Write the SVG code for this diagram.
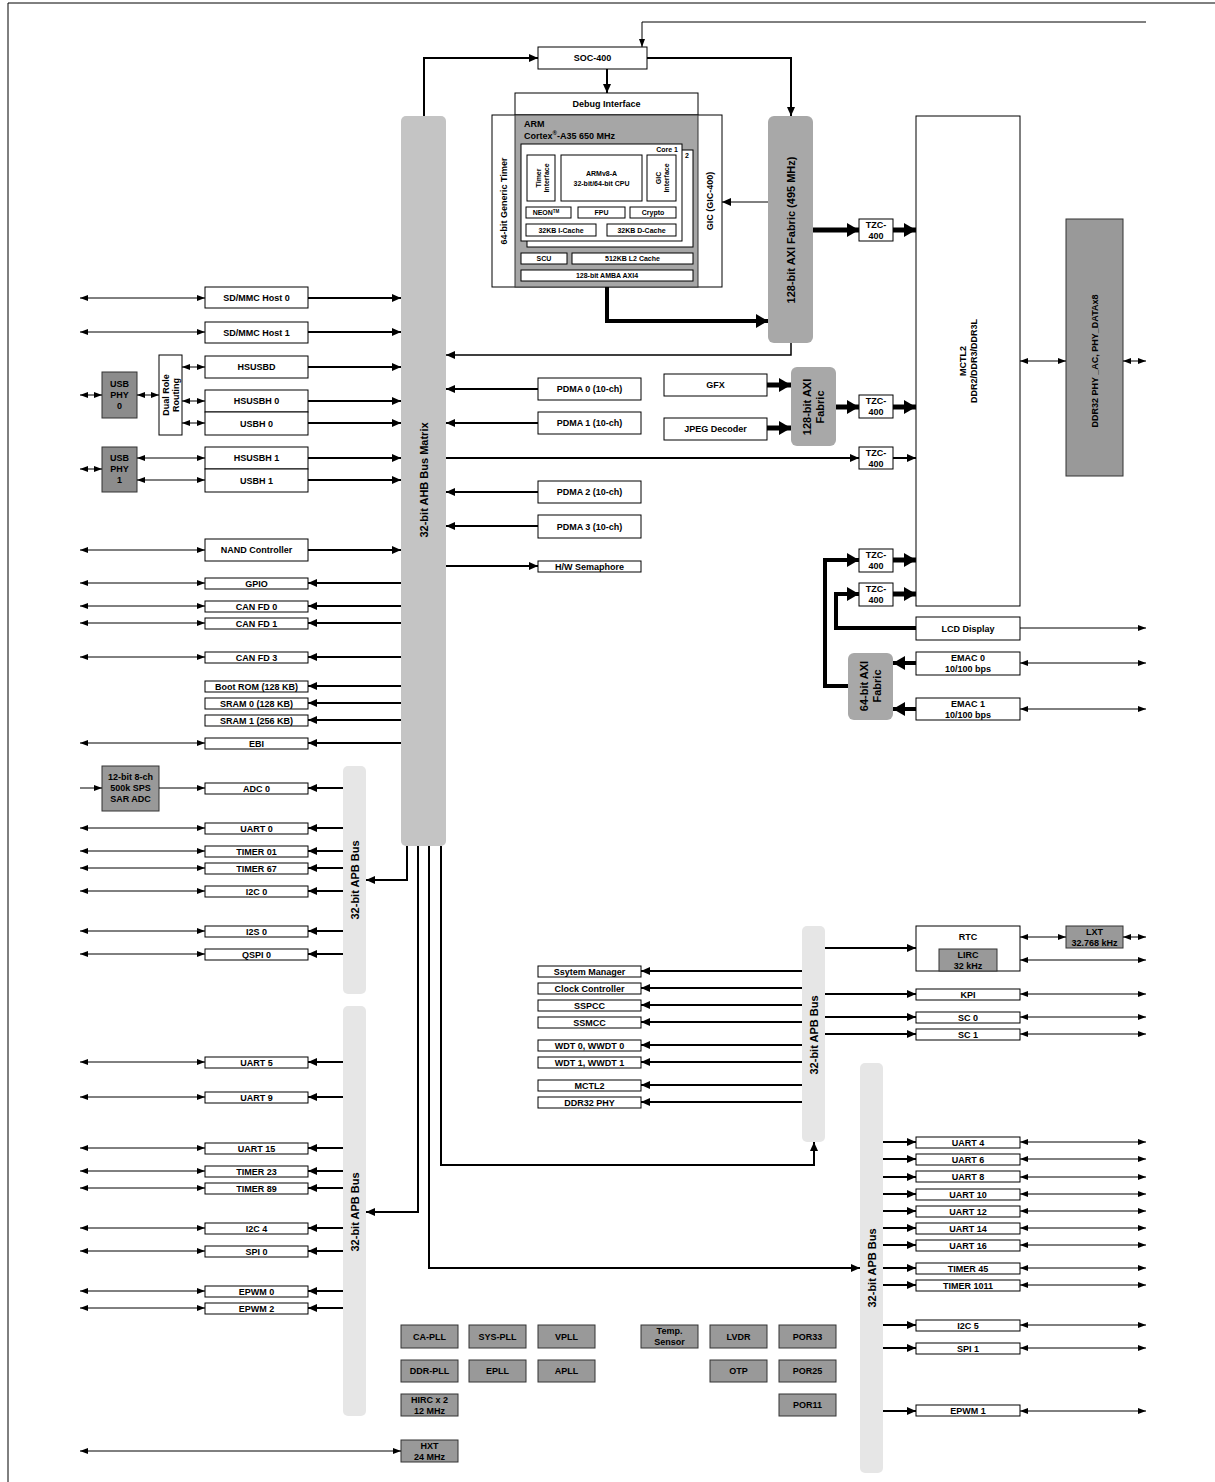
<svg xmlns="http://www.w3.org/2000/svg" width="1215" height="1482" viewBox="0 0 1215 1482">
<defs>
<style>
.w{fill:#fff;stroke:#000;stroke-width:1}
.dk{fill:#999;stroke:#333;stroke-width:1}
.phy{fill:#8c8c8c;stroke:#333;stroke-width:1}
.cpu{fill:#a6a6a6;stroke:#333;stroke-width:1}
.axi{fill:#a8a8a8;stroke:none}
.ahb{fill:#c4c4c4;stroke:none}
.apb{fill:#e6e6e6;stroke:none}
text{font-family:"Liberation Sans",Arial,sans-serif;font-weight:bold;font-size:9px;text-anchor:middle;dominant-baseline:central;fill:#000}
.s7{font-size:7px}
.s8{font-size:8px}
.s11{font-size:11px}
.l{text-anchor:start}
.r{text-anchor:end}
.c1{fill:none;stroke:#000;stroke-width:1}
.c2{fill:none;stroke:#000;stroke-width:2}
.c5{fill:none;stroke:#000;stroke-width:5}
</style>
<marker id="a" markerUnits="userSpaceOnUse" viewBox="0 0 8 6" refX="8" refY="3" markerWidth="8" markerHeight="6" orient="auto-start-reverse"><path d="M0,0 L8,3 L0,6 z" fill="#000"/></marker>
<marker id="b" markerUnits="userSpaceOnUse" viewBox="0 0 9 8" refX="9" refY="4" markerWidth="9" markerHeight="8" orient="auto-start-reverse"><path d="M0,0 L9,4 L0,8 z" fill="#000"/></marker>
<marker id="c" markerUnits="userSpaceOnUse" viewBox="0 0 12 14" refX="12" refY="7" markerWidth="12" markerHeight="14" orient="auto-start-reverse"><path d="M0,0 L12,7 L0,14 z" fill="#000"/></marker>
</defs>
<rect x="0" y="0" width="1215" height="1482" fill="#fff"/>
<path d="M8,1482 V3 H1215" fill="none" stroke="#000" stroke-width="1"/>

<!-- buses -->
<g id="ahb"><rect class="ahb" x="401" y="116" width="45" height="730" rx="5"/><text class="s11" transform="translate(424,480) rotate(-90)">32-bit AHB Bus Matrix</text></g>
<g id="axi128"><rect class="axi" x="768" y="116" width="45" height="227" rx="6"/><text class="s11" transform="translate(791,230) rotate(-90)">128-bit AXI Fabric (495 MHz)</text></g>
<g id="axi128b"><rect class="axi" x="791" y="367" width="45" height="79" rx="6"/><text class="s11" transform="translate(807,407) rotate(-90)">128-bit AXI</text><text class="s11" transform="translate(820,407) rotate(-90)">Fabric</text></g>
<g id="axi64"><rect class="axi" x="848" y="653" width="45" height="67" rx="6"/><text class="s11" transform="translate(864,686) rotate(-90)">64-bit AXI</text><text class="s11" transform="translate(877,686) rotate(-90)">Fabric</text></g>
<g id="apb1"><rect class="apb" x="343" y="766" width="23" height="228" rx="5"/><text class="s11" transform="translate(354.5,880) rotate(-90)">32-bit APB Bus</text></g>
<g id="apb2"><rect class="apb" x="343" y="1006" width="23" height="410" rx="5"/><text class="s11" transform="translate(354.5,1212) rotate(-90)">32-bit APB Bus</text></g>
<g id="apb3"><rect class="apb" x="802" y="926" width="23" height="216" rx="5"/><text class="s11" transform="translate(813.5,1035) rotate(-90)">32-bit APB Bus</text></g>
<g id="apb4"><rect class="apb" x="860" y="1063" width="23" height="410" rx="5"/><text class="s11" transform="translate(871.5,1268) rotate(-90)">32-bit APB Bus</text></g>

<!-- top / CPU -->
<g id="soc400"><rect class="w" x="538" y="47" width="109" height="22"/><text x="592.5" y="58">SOC-400</text></g>
<g id="debug"><rect class="w" x="515" y="93" width="183" height="22"/><text x="606.5" y="104">Debug Interface</text></g>
<g id="gic"><rect class="w" x="492" y="115" width="230" height="172"/><text transform="translate(504,201) rotate(-90)">64-bit Generic Timer</text><text transform="translate(710,201) rotate(-90)">GIC (GIC-400)</text></g>
<g id="cpu">
<rect class="cpu" x="515" y="115" width="183" height="172"/>
<text class="l" x="524" y="124">ARM</text>
<text class="l" x="524" y="136">Cortex<tspan font-size="6px" dy="-3">®</tspan><tspan dy="3">-A35 650 MHz</tspan></text>
<rect class="w" x="527" y="150" width="166" height="97"/><text class="s7" x="687" y="155">2</text>
<rect class="w" x="521" y="144" width="161" height="97"/><text class="s7 r" x="678" y="149">Core 1</text>
<rect class="w" x="527" y="155" width="28" height="46"/><text class="s7" transform="translate(538,178) rotate(-90)">Timer</text><text class="s7" transform="translate(546,178) rotate(-90)">Interface</text>
<rect class="w" x="561" y="155" width="81" height="46"/><text class="s7" x="601.5" y="173">ARMv8-A</text><text class="s7" x="601.5" y="183">32-bit/64-bit CPU</text>
<rect class="w" x="647" y="155" width="29" height="46"/><text class="s7" transform="translate(658,178) rotate(-90)">GIC</text><text class="s7" transform="translate(666,178) rotate(-90)">Interface</text>
<rect class="w" x="526" y="207" width="45" height="11"/><text class="s7" x="546" y="212.5">NEON<tspan font-size="4.5px" dy="-2">TM</tspan></text>
<rect class="w" x="578" y="207" width="47" height="11"/><text class="s7" x="601.5" y="212.5">FPU</text>
<rect class="w" x="630" y="207" width="46" height="11"/><text class="s7" x="653" y="212.5">Crypto</text>
<rect class="w" x="526" y="224" width="70" height="12"/><text class="s7" x="561" y="230">32KB I-Cache</text>
<rect class="w" x="607" y="224" width="69" height="12"/><text class="s7" x="641.5" y="230">32KB D-Cache</text>
<rect class="w" x="521" y="253" width="46" height="11"/><text class="s7" x="544" y="258.5">SCU</text>
<rect class="w" x="572" y="253" width="121" height="11"/><text class="s7" x="632.5" y="258.5">512KB L2 Cache</text>
<rect class="w" x="521" y="270" width="172" height="11"/><text class="s7" x="607" y="275.5">128-bit AMBA AXI4</text>
</g>

<!-- memory side -->
<g id="mctl2"><rect class="w" x="916" y="116" width="104" height="490"/><text transform="translate(963,361) rotate(-90)">MCTL2</text><text transform="translate(974,361) rotate(-90)">DDR2/DDR3/DDR3L</text></g>
<g id="ddrphy"><rect class="dk" x="1066" y="219" width="57" height="257"/><text transform="translate(1094.5,361) rotate(-90)">DDR32 PHY _AC, PHY_DATAx8</text></g>
<g id="tzc1"><rect class="w" x="859" y="219" width="34" height="22"/><text x="876" y="225">TZC-</text><text x="876" y="236">400</text></g>
<g id="tzc2"><rect class="w" x="859" y="395" width="34" height="23"/><text x="876" y="401">TZC-</text><text x="876" y="412">400</text></g>
<g id="tzc3"><rect class="w" x="859" y="447" width="34" height="22"/><text x="876" y="453">TZC-</text><text x="876" y="464">400</text></g>
<g id="tzc4"><rect class="w" x="859" y="549" width="34" height="23"/><text x="876" y="555">TZC-</text><text x="876" y="566">400</text></g>
<g id="tzc5"><rect class="w" x="859" y="583" width="34" height="23"/><text x="876" y="589">TZC-</text><text x="876" y="600">400</text></g>
<g id="gfx"><rect class="w" x="664" y="374" width="103" height="22"/><text x="715.5" y="385">GFX</text></g>
<g id="jpeg"><rect class="w" x="664" y="418" width="103" height="22"/><text x="715.5" y="429">JPEG Decoder</text></g>
<g id="lcd"><rect class="w" x="916" y="617" width="104" height="23"/><text x="968" y="628.5">LCD Display</text></g>
<g id="emac0"><rect class="w" x="916" y="652" width="104" height="23"/><text x="968" y="658">EMAC 0</text><text x="968" y="669">10/100 bps</text></g>
<g id="emac1"><rect class="w" x="916" y="698" width="104" height="22"/><text x="968" y="704">EMAC 1</text><text x="968" y="715">10/100 bps</text></g>

<!-- PDMA -->
<g id="pdma0"><rect class="w" x="538" y="378" width="103" height="22"/><text x="589.5" y="389">PDMA 0 (10-ch)</text></g>
<g id="pdma1"><rect class="w" x="538" y="412" width="103" height="22"/><text x="589.5" y="423">PDMA 1 (10-ch)</text></g>
<g id="pdma2"><rect class="w" x="538" y="481" width="103" height="22"/><text x="589.5" y="492">PDMA 2 (10-ch)</text></g>
<g id="pdma3"><rect class="w" x="538" y="515" width="103" height="23"/><text x="589.5" y="526.5">PDMA 3 (10-ch)</text></g>
<g id="hwsem"><rect class="w" x="538" y="561" width="103" height="11"/><text x="589.5" y="566.5">H/W Semaphore</text></g>

<!-- left AHB peripherals -->
<g id="sdmmc0"><rect class="w" x="205" y="287" width="103" height="21"/><text x="256.5" y="297.5">SD/MMC Host 0</text></g>
<g id="sdmmc1"><rect class="w" x="205" y="322" width="103" height="21"/><text x="256.5" y="332.5">SD/MMC Host 1</text></g>
<g id="hsusbd"><rect class="w" x="205" y="356" width="103" height="22"/><text x="256.5" y="367">HSUSBD</text></g>
<g id="hsusbh0"><rect class="w" x="205" y="390" width="103" height="22"/><text x="256.5" y="401">HSUSBH 0</text></g>
<g id="usbh0"><rect class="w" x="205" y="412" width="103" height="23"/><text x="256.5" y="423.5">USBH 0</text></g>
<g id="hsusbh1"><rect class="w" x="205" y="447" width="103" height="22"/><text x="256.5" y="458">HSUSBH 1</text></g>
<g id="usbh1"><rect class="w" x="205" y="469" width="103" height="23"/><text x="256.5" y="480.5">USBH 1</text></g>
<g id="dualrole"><rect class="w" x="159" y="355" width="23" height="80"/><text transform="translate(166,395) rotate(-90)">Dual Role</text><text transform="translate(176,395) rotate(-90)">Routing</text></g>
<g id="usbphy0"><rect class="phy" x="102" y="372" width="35" height="46"/><text x="119.5" y="384">USB</text><text x="119.5" y="395">PHY</text><text x="119.5" y="406">0</text></g>
<g id="usbphy1"><rect class="phy" x="102" y="447" width="35" height="45"/><text x="119.5" y="458">USB</text><text x="119.5" y="469">PHY</text><text x="119.5" y="480">1</text></g>
<g id="nand"><rect class="w" x="205" y="539" width="103" height="22"/><text x="256.5" y="550">NAND Controller</text></g>
<g id="gpio"><rect class="w" x="205" y="578" width="103" height="11"/><text x="256.5" y="583.5">GPIO</text></g>
<g id="canfd0"><rect class="w" x="205" y="601" width="103" height="11"/><text x="256.5" y="606.5">CAN FD 0</text></g>
<g id="canfd1"><rect class="w" x="205" y="618" width="103" height="11"/><text x="256.5" y="623.5">CAN FD 1</text></g>
<g id="canfd3"><rect class="w" x="205" y="652" width="103" height="11"/><text x="256.5" y="657.5">CAN FD 3</text></g>
<g id="bootrom"><rect class="w" x="205" y="681" width="103" height="11"/><text x="256.5" y="686.5">Boot ROM (128 KB)</text></g>
<g id="sram0"><rect class="w" x="205" y="698" width="103" height="11"/><text x="256.5" y="703.5">SRAM 0 (128 KB)</text></g>
<g id="sram1"><rect class="w" x="205" y="715" width="103" height="11"/><text x="256.5" y="720.5">SRAM 1 (256 KB)</text></g>
<g id="ebi"><rect class="w" x="205" y="738" width="103" height="11"/><text x="256.5" y="743.5">EBI</text></g>
<g id="saradc"><rect class="dk" x="102" y="766" width="57" height="45"/><text x="130.5" y="777">12-bit 8-ch</text><text x="130.5" y="788">500k SPS</text><text x="130.5" y="799">SAR ADC</text></g>
<g id="adc0"><rect class="w" x="205" y="783" width="103" height="11"/><text x="256.5" y="788.5">ADC 0</text></g>
<g id="uart0"><rect class="w" x="205" y="823" width="103" height="11"/><text x="256.5" y="828.5">UART 0</text></g>
<g id="timer01"><rect class="w" x="205" y="846" width="103" height="11"/><text x="256.5" y="851.5">TIMER 01</text></g>
<g id="timer67"><rect class="w" x="205" y="863" width="103" height="11"/><text x="256.5" y="868.5">TIMER 67</text></g>
<g id="i2c0"><rect class="w" x="205" y="886" width="103" height="11"/><text x="256.5" y="891.5">I2C 0</text></g>
<g id="i2s0"><rect class="w" x="205" y="926" width="103" height="11"/><text x="256.5" y="931.5">I2S 0</text></g>
<g id="qspi0"><rect class="w" x="205" y="949" width="103" height="11"/><text x="256.5" y="954.5">QSPI 0</text></g>
<g id="uart5"><rect class="w" x="205" y="1057" width="103" height="11"/><text x="256.5" y="1062.5">UART 5</text></g>
<g id="uart9"><rect class="w" x="205" y="1092" width="103" height="11"/><text x="256.5" y="1097.5">UART 9</text></g>
<g id="uart15"><rect class="w" x="205" y="1143" width="103" height="11"/><text x="256.5" y="1148.5">UART 15</text></g>
<g id="timer23"><rect class="w" x="205" y="1166" width="103" height="11"/><text x="256.5" y="1171.5">TIMER 23</text></g>
<g id="timer89"><rect class="w" x="205" y="1183" width="103" height="11"/><text x="256.5" y="1188.5">TIMER 89</text></g>
<g id="i2c4"><rect class="w" x="205" y="1223" width="103" height="11"/><text x="256.5" y="1228.5">I2C 4</text></g>
<g id="spi0"><rect class="w" x="205" y="1246" width="103" height="11"/><text x="256.5" y="1251.5">SPI 0</text></g>
<g id="epwm0"><rect class="w" x="205" y="1286" width="103" height="11"/><text x="256.5" y="1291.5">EPWM 0</text></g>
<g id="epwm2"><rect class="w" x="205" y="1303" width="103" height="11"/><text x="256.5" y="1308.5">EPWM 2</text></g>

<!-- middle APB peripherals -->
<g id="sysmgr"><rect class="w" x="538" y="966" width="103" height="11"/><text x="589.5" y="971.5">Ssytem Manager</text></g>
<g id="clkctl"><rect class="w" x="538" y="983" width="103" height="11"/><text x="589.5" y="988.5">Clock Controller</text></g>
<g id="sspcc"><rect class="w" x="538" y="1000" width="103" height="11"/><text x="589.5" y="1005.5">SSPCC</text></g>
<g id="ssmcc"><rect class="w" x="538" y="1017" width="103" height="11"/><text x="589.5" y="1022.5">SSMCC</text></g>
<g id="wdt0"><rect class="w" x="538" y="1040" width="103" height="11"/><text x="589.5" y="1045.5">WDT 0, WWDT 0</text></g>
<g id="wdt1"><rect class="w" x="538" y="1057" width="103" height="11"/><text x="589.5" y="1062.5">WDT 1, WWDT 1</text></g>
<g id="mctl2apb"><rect class="w" x="538" y="1080" width="103" height="11"/><text x="589.5" y="1085.5">MCTL2</text></g>
<g id="ddrphyapb"><rect class="w" x="538" y="1097" width="103" height="11"/><text x="589.5" y="1102.5">DDR32 PHY</text></g>

<!-- right APB peripherals -->
<g id="rtc"><rect class="w" x="916" y="926" width="104" height="45"/><text x="968" y="937">RTC</text><rect class="dk" x="939" y="949" width="58" height="22"/><text x="968" y="954.5">LIRC</text><text x="968" y="965.5">32 kHz</text></g>
<g id="lxt"><rect class="dk" x="1066" y="926" width="57" height="22"/><text x="1094.5" y="931.5">LXT</text><text x="1094.5" y="942.5">32.768 kHz</text></g>
<g id="kpi"><rect class="w" x="916" y="989" width="104" height="11"/><text x="968" y="994.5">KPI</text></g>
<g id="sc0"><rect class="w" x="916" y="1012" width="104" height="11"/><text x="968" y="1017.5">SC 0</text></g>
<g id="sc1"><rect class="w" x="916" y="1029" width="104" height="11"/><text x="968" y="1034.5">SC 1</text></g>
<g id="uart4"><rect class="w" x="916" y="1137" width="104" height="11"/><text x="968" y="1142.5">UART 4</text></g>
<g id="uart6"><rect class="w" x="916" y="1154" width="104" height="11"/><text x="968" y="1159.5">UART 6</text></g>
<g id="uart8"><rect class="w" x="916" y="1171" width="104" height="11"/><text x="968" y="1176.5">UART 8</text></g>
<g id="uart10"><rect class="w" x="916" y="1189" width="104" height="11"/><text x="968" y="1194.5">UART 10</text></g>
<g id="uart12"><rect class="w" x="916" y="1206" width="104" height="11"/><text x="968" y="1211.5">UART 12</text></g>
<g id="uart14"><rect class="w" x="916" y="1223" width="104" height="11"/><text x="968" y="1228.5">UART 14</text></g>
<g id="uart16"><rect class="w" x="916" y="1240" width="104" height="11"/><text x="968" y="1245.5">UART 16</text></g>
<g id="timer45"><rect class="w" x="916" y="1263" width="104" height="11"/><text x="968" y="1268.5">TIMER 45</text></g>
<g id="timer1011"><rect class="w" x="916" y="1280" width="104" height="11"/><text x="968" y="1285.5">TIMER 1011</text></g>
<g id="i2c5"><rect class="w" x="916" y="1320" width="104" height="11"/><text x="968" y="1325.5">I2C 5</text></g>
<g id="spi1"><rect class="w" x="916" y="1343" width="104" height="11"/><text x="968" y="1348.5">SPI 1</text></g>
<g id="epwm1"><rect class="w" x="916" y="1405" width="104" height="11"/><text x="968" y="1410.5">EPWM 1</text></g>

<!-- analog blocks -->
<g id="capll"><rect class="dk" x="401" y="1325" width="57" height="23"/><text x="429.5" y="1336.5">CA-PLL</text></g>
<g id="syspll"><rect class="dk" x="469" y="1325" width="57" height="23"/><text x="497.5" y="1336.5">SYS-PLL</text></g>
<g id="vpll"><rect class="dk" x="538" y="1325" width="57" height="23"/><text x="566.5" y="1336.5">VPLL</text></g>
<g id="temp"><rect class="dk" x="641" y="1325" width="57" height="23"/><text x="669.5" y="1331">Temp.</text><text x="669.5" y="1342">Sensor</text></g>
<g id="lvdr"><rect class="dk" x="710" y="1325" width="57" height="23"/><text x="738.5" y="1336.5">LVDR</text></g>
<g id="por33"><rect class="dk" x="779" y="1325" width="57" height="23"/><text x="807.5" y="1336.5">POR33</text></g>
<g id="ddrpll"><rect class="dk" x="401" y="1360" width="57" height="22"/><text x="429.5" y="1371">DDR-PLL</text></g>
<g id="epll"><rect class="dk" x="469" y="1360" width="57" height="22"/><text x="497.5" y="1371">EPLL</text></g>
<g id="apll"><rect class="dk" x="538" y="1360" width="57" height="22"/><text x="566.5" y="1371">APLL</text></g>
<g id="otp"><rect class="dk" x="710" y="1360" width="57" height="22"/><text x="738.5" y="1371">OTP</text></g>
<g id="por25"><rect class="dk" x="779" y="1360" width="57" height="22"/><text x="807.5" y="1371">POR25</text></g>
<g id="hirc"><rect class="dk" x="401" y="1394" width="57" height="22"/><text x="429.5" y="1399.5">HIRC x 2</text><text x="429.5" y="1410.5">12 MHz</text></g>
<g id="por11"><rect class="dk" x="779" y="1394" width="57" height="22"/><text x="807.5" y="1405">POR11</text></g>
<g id="hxt"><rect class="dk" x="401" y="1440" width="57" height="22"/><text x="429.5" y="1445.5">HXT</text><text x="429.5" y="1456.5">24 MHz</text></g>

<!-- connectors -->
<g id="connectors">
<!-- top -->
<path class="c1" d="M1146,22 H642 V47" marker-end="url(#a)"/>
<path class="c2" d="M424,116 V58 H538" marker-end="url(#b)"/>
<path class="c2" d="M647,58 H791 V116" marker-end="url(#b)"/>
<path class="c2" d="M607,69 V93" marker-end="url(#b)"/>
<path class="c1" d="M768,202 H722" marker-end="url(#b)"/>
<path class="c5" d="M607,287 V321 H768" marker-end="url(#c)" style="stroke-width:4"/>
<path class="c2" d="M791,343 V355 H446" marker-end="url(#b)" style="stroke-width:1.5"/>
<!-- memory -->
<path class="c5" d="M813,230 H859" marker-end="url(#c)"/>
<path class="c5" d="M893,230 H916" marker-end="url(#c)"/>
<path class="c5" d="M767,385 H791" marker-end="url(#c)"/>
<path class="c5" d="M767,428 H791" marker-end="url(#c)"/>
<path class="c5" d="M836,407 H859" marker-end="url(#c)"/>
<path class="c5" d="M893,407 H916" marker-end="url(#c)"/>
<path class="c2" d="M446,458 H859" marker-end="url(#b)"/>
<path class="c2" d="M893,458 H916" marker-end="url(#b)"/>
<path class="c1" d="M1020,361 H1066" marker-start="url(#a)" marker-end="url(#a)"/>
<path class="c1" d="M1123,361 H1146" marker-start="url(#a)" marker-end="url(#a)"/>
<path class="c5" d="M848,686 H825 V560 H859" marker-end="url(#c)" style="stroke-width:4"/>
<path class="c5" d="M916,628 H836 V594 H859" marker-end="url(#c)" style="stroke-width:4"/>
<path class="c5" d="M893,560 H916" marker-end="url(#c)"/>
<path class="c5" d="M893,594 H916" marker-end="url(#c)"/>
<path class="c5" d="M916,663 H893" marker-end="url(#c)" style="stroke-width:4"/>
<path class="c5" d="M916,709 H893" marker-end="url(#c)" style="stroke-width:4"/>
<path class="c1" d="M1020,628 H1146" marker-end="url(#a)"/>
<path class="c1" d="M1020,663 H1146" marker-start="url(#a)" marker-end="url(#a)"/>
<path class="c1" d="M1020,709 H1146" marker-start="url(#a)" marker-end="url(#a)"/>
<!-- PDMA -->
<path class="c2" d="M538,389 H446" marker-end="url(#b)"/>
<path class="c2" d="M538,423 H446" marker-end="url(#b)"/>
<path class="c2" d="M538,492 H446" marker-end="url(#b)"/>
<path class="c2" d="M538,526 H446" marker-end="url(#b)"/>
<path class="c2" d="M446,566 H538" marker-end="url(#b)"/>
<!-- left to AHB -->
<path class="c2" d="M308,298 H401" marker-end="url(#b)"/>
<path class="c2" d="M308,332 H401" marker-end="url(#b)"/>
<path class="c2" d="M308,367 H401" marker-end="url(#b)"/>
<path class="c2" d="M308,401 H401" marker-end="url(#b)"/>
<path class="c2" d="M308,423 H401" marker-end="url(#b)"/>
<path class="c2" d="M308,458 H401" marker-end="url(#b)"/>
<path class="c2" d="M308,480 H401" marker-end="url(#b)"/>
<path class="c2" d="M308,550 H401" marker-end="url(#b)"/>
<path class="c2" d="M401,583 H308" marker-end="url(#b)"/>
<path class="c2" d="M401,606 H308" marker-end="url(#b)"/>
<path class="c2" d="M401,623 H308" marker-end="url(#b)"/>
<path class="c2" d="M401,657 H308" marker-end="url(#b)"/>
<path class="c2" d="M401,686 H308" marker-end="url(#b)"/>
<path class="c2" d="M401,703 H308" marker-end="url(#b)"/>
<path class="c2" d="M401,720 H308" marker-end="url(#b)"/>
<path class="c2" d="M401,743 H308" marker-end="url(#b)"/>
<!-- APB left -->
<path class="c2" d="M343,788 H308" marker-end="url(#b)"/>
<path class="c2" d="M343,828 H308" marker-end="url(#b)"/>
<path class="c2" d="M343,851 H308" marker-end="url(#b)"/>
<path class="c2" d="M343,868 H308" marker-end="url(#b)"/>
<path class="c2" d="M343,891 H308" marker-end="url(#b)"/>
<path class="c2" d="M343,931 H308" marker-end="url(#b)"/>
<path class="c2" d="M343,954 H308" marker-end="url(#b)"/>
<path class="c2" d="M343,1062 H308" marker-end="url(#b)"/>
<path class="c2" d="M343,1097 H308" marker-end="url(#b)"/>
<path class="c2" d="M343,1148 H308" marker-end="url(#b)"/>
<path class="c2" d="M343,1171 H308" marker-end="url(#b)"/>
<path class="c2" d="M343,1188 H308" marker-end="url(#b)"/>
<path class="c2" d="M343,1228 H308" marker-end="url(#b)"/>
<path class="c2" d="M343,1251 H308" marker-end="url(#b)"/>
<path class="c2" d="M343,1291 H308" marker-end="url(#b)"/>
<path class="c2" d="M343,1308 H308" marker-end="url(#b)"/>
<!-- external left -->
<path class="c1" d="M80,298 H205" marker-start="url(#a)" marker-end="url(#a)"/>
<path class="c1" d="M80,332 H205" marker-start="url(#a)" marker-end="url(#a)"/>
<path class="c1" d="M182,367 H205" marker-start="url(#a)" marker-end="url(#a)"/>
<path class="c1" d="M182,401 H205" marker-start="url(#a)" marker-end="url(#a)"/>
<path class="c1" d="M182,423 H205" marker-start="url(#a)" marker-end="url(#a)"/>
<path class="c1" d="M137,395 H159" marker-start="url(#a)" marker-end="url(#a)"/>
<path class="c1" d="M80,395 H102" marker-start="url(#a)" marker-end="url(#a)"/>
<path class="c1" d="M137,458 H205" marker-start="url(#a)" marker-end="url(#a)"/>
<path class="c1" d="M137,480 H205" marker-start="url(#a)" marker-end="url(#a)"/>
<path class="c1" d="M80,469 H102" marker-start="url(#a)" marker-end="url(#a)"/>
<path class="c1" d="M80,550 H205" marker-start="url(#a)" marker-end="url(#a)"/>
<path class="c1" d="M80,583 H205" marker-start="url(#a)" marker-end="url(#a)"/>
<path class="c1" d="M80,606 H205" marker-start="url(#a)" marker-end="url(#a)"/>
<path class="c1" d="M80,623 H205" marker-start="url(#a)" marker-end="url(#a)"/>
<path class="c1" d="M80,657 H205" marker-start="url(#a)" marker-end="url(#a)"/>
<path class="c1" d="M80,743 H205" marker-start="url(#a)" marker-end="url(#a)"/>
<path class="c1" d="M80,788 H102" marker-end="url(#a)"/>
<path class="c1" d="M159,788 H205" marker-end="url(#a)"/>
<path class="c1" d="M80,828 H205" marker-start="url(#a)" marker-end="url(#a)"/>
<path class="c1" d="M80,851 H205" marker-start="url(#a)" marker-end="url(#a)"/>
<path class="c1" d="M80,868 H205" marker-start="url(#a)" marker-end="url(#a)"/>
<path class="c1" d="M80,891 H205" marker-start="url(#a)" marker-end="url(#a)"/>
<path class="c1" d="M80,931 H205" marker-start="url(#a)" marker-end="url(#a)"/>
<path class="c1" d="M80,954 H205" marker-start="url(#a)" marker-end="url(#a)"/>
<path class="c1" d="M80,1062 H205" marker-start="url(#a)" marker-end="url(#a)"/>
<path class="c1" d="M80,1097 H205" marker-start="url(#a)" marker-end="url(#a)"/>
<path class="c1" d="M80,1148 H205" marker-start="url(#a)" marker-end="url(#a)"/>
<path class="c1" d="M80,1171 H205" marker-start="url(#a)" marker-end="url(#a)"/>
<path class="c1" d="M80,1188 H205" marker-start="url(#a)" marker-end="url(#a)"/>
<path class="c1" d="M80,1228 H205" marker-start="url(#a)" marker-end="url(#a)"/>
<path class="c1" d="M80,1251 H205" marker-start="url(#a)" marker-end="url(#a)"/>
<path class="c1" d="M80,1291 H205" marker-start="url(#a)" marker-end="url(#a)"/>
<path class="c1" d="M80,1308 H205" marker-start="url(#a)" marker-end="url(#a)"/>
<path class="c1" d="M80,1451 H401" marker-start="url(#a)" marker-end="url(#a)"/>
<!-- AHB to APB bridges -->
<path class="c2" d="M407,846 V880 H366" marker-end="url(#b)"/>
<path class="c2" d="M418,846 V1212 H366" marker-end="url(#b)"/>
<path class="c2" d="M429,846 V1268 H860" marker-end="url(#b)"/>
<path class="c2" d="M441,846 V1165 H814 V1142" marker-end="url(#b)"/>
<!-- middle APB -->
<path class="c2" d="M802,971 H641" marker-end="url(#b)"/>
<path class="c2" d="M802,988 H641" marker-end="url(#b)"/>
<path class="c2" d="M802,1005 H641" marker-end="url(#b)"/>
<path class="c2" d="M802,1022 H641" marker-end="url(#b)"/>
<path class="c2" d="M802,1045 H641" marker-end="url(#b)"/>
<path class="c2" d="M802,1062 H641" marker-end="url(#b)"/>
<path class="c2" d="M802,1085 H641" marker-end="url(#b)"/>
<path class="c2" d="M802,1102 H641" marker-end="url(#b)"/>
<path class="c2" d="M825,948 H916" marker-end="url(#b)"/>
<path class="c2" d="M825,994 H916" marker-end="url(#b)"/>
<path class="c2" d="M825,1017 H916" marker-end="url(#b)"/>
<path class="c2" d="M825,1034 H916" marker-end="url(#b)"/>
<path class="c1" d="M1020,937 H1066" marker-start="url(#a)" marker-end="url(#a)"/>
<path class="c1" d="M1123,937 H1146" marker-start="url(#a)" marker-end="url(#a)"/>
<path class="c1" d="M1020,960 H1146" marker-start="url(#a)" marker-end="url(#a)"/>
<path class="c1" d="M1020,994 H1146" marker-start="url(#a)" marker-end="url(#a)"/>
<path class="c1" d="M1020,1017 H1146" marker-start="url(#a)" marker-end="url(#a)"/>
<path class="c1" d="M1020,1034 H1146" marker-start="url(#a)" marker-end="url(#a)"/>
<!-- right APB -->
<path class="c2" d="M883,1142 H916" marker-end="url(#b)"/>
<path class="c2" d="M883,1159 H916" marker-end="url(#b)"/>
<path class="c2" d="M883,1177 H916" marker-end="url(#b)"/>
<path class="c2" d="M883,1194 H916" marker-end="url(#b)"/>
<path class="c2" d="M883,1211 H916" marker-end="url(#b)"/>
<path class="c2" d="M883,1228 H916" marker-end="url(#b)"/>
<path class="c2" d="M883,1245 H916" marker-end="url(#b)"/>
<path class="c2" d="M883,1268 H916" marker-end="url(#b)"/>
<path class="c2" d="M883,1285 H916" marker-end="url(#b)"/>
<path class="c2" d="M883,1325 H916" marker-end="url(#b)"/>
<path class="c2" d="M883,1348 H916" marker-end="url(#b)"/>
<path class="c2" d="M883,1411 H916" marker-end="url(#b)"/>
<path class="c1" d="M1020,1142 H1146" marker-start="url(#a)" marker-end="url(#a)"/>
<path class="c1" d="M1020,1159 H1146" marker-start="url(#a)" marker-end="url(#a)"/>
<path class="c1" d="M1020,1177 H1146" marker-start="url(#a)" marker-end="url(#a)"/>
<path class="c1" d="M1020,1194 H1146" marker-start="url(#a)" marker-end="url(#a)"/>
<path class="c1" d="M1020,1211 H1146" marker-start="url(#a)" marker-end="url(#a)"/>
<path class="c1" d="M1020,1228 H1146" marker-start="url(#a)" marker-end="url(#a)"/>
<path class="c1" d="M1020,1245 H1146" marker-start="url(#a)" marker-end="url(#a)"/>
<path class="c1" d="M1020,1268 H1146" marker-start="url(#a)" marker-end="url(#a)"/>
<path class="c1" d="M1020,1285 H1146" marker-start="url(#a)" marker-end="url(#a)"/>
<path class="c1" d="M1020,1325 H1146" marker-start="url(#a)" marker-end="url(#a)"/>
<path class="c1" d="M1020,1348 H1146" marker-start="url(#a)" marker-end="url(#a)"/>
<path class="c1" d="M1020,1411 H1146" marker-start="url(#a)" marker-end="url(#a)"/>
</g>
</svg>
